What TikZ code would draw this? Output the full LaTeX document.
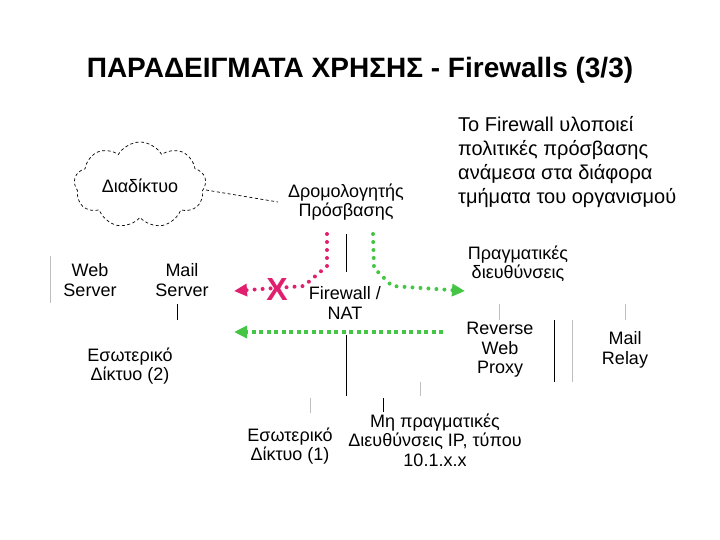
\documentclass[tikz,border=0pt]{standalone}
\usepackage{fontspec}
\setmainfont{Liberation Sans}
\usetikzlibrary{shapes.symbols,arrows.meta}
\definecolor{mag}{HTML}{E0206E}
\definecolor{grn}{HTML}{44C544}
\tikzset{
  lbl/.style={align=center,font=\fontsize{18}{19.5}\selectfont,inner sep=0pt},
  blk/.style={draw=black,line width=0.9pt},
  gry/.style={draw=black!25,line width=0.9pt},
  magdots/.style={draw=mag,line width=4pt,line cap=round,dash pattern=on 0pt off 8pt,
    -{Triangle[length=13pt,width=12pt,line cap=butt]}},
  grndots/.style={draw=grn,line width=4pt,line cap=round,dash pattern=on 0pt off 8pt,
    -{Triangle[length=13pt,width=12pt,line cap=butt]}},
  grndash/.style={draw=grn,line width=4pt,line cap=butt,dash pattern=on 4pt off 3.5pt,
    -{Triangle[length=13pt,width=12pt]}},
}
\begin{document}
\begin{tikzpicture}[x=1pt,y=-1pt]
\useasboundingbox (0,0) rectangle (720,540);
% title
\node[font=\bfseries\fontsize{28}{32}\selectfont,inner sep=0pt] (title) at (360,70) {ΠΑΡΑΔΕΙΓΜΑΤΑ ΧΡΗΣΗΣ - Firewalls (3/3)};
% note
\node[anchor=north west,align=left,inner sep=0pt,font=\fontsize{20}{24}\selectfont] (note) at (458,116)
 {Το Firewall υλοποιεί\\πολιτικές πρόσβασης\\ανάμεσα στα διάφορα\\τμήματα του οργανισμού};
% cloud
\node[cloud,cloud puffs=9,cloud puff arc=120,aspect=1.55,draw,dash pattern=on 3pt off 2.5pt,line width=0.7pt,
  minimum width=132pt,minimum height=86pt,inner sep=0pt] (cloud) at (140,185) {};
\node[lbl] (inet) at (140,186) {Διαδίκτυο};
\node[lbl] (router) at (346,202) {Δρομολογητής\\Πρόσβασης};
\coordinate (rt) at (278,202);
\coordinate (ce) at (206,190);
\draw[dash pattern=on 3pt off 2.5pt,line width=0.7pt] (ce) -- (rt);
% servers
\node[lbl] (web) at (90,280) {Web\\Server};
\node[lbl] (mail) at (182,280) {Mail\\Server};
\node[lbl] (fw) at (345,303) {Firewall /\\NAT};
\node[lbl] (real) at (518,264) {Πραγματικές\\διευθύνσεις};
\node[lbl] (rwp) at (500,350) {Reverse\\Web\\Proxy};
\node[lbl] (relay) at (625,350) {Mail\\Relay};
\node[lbl] (in2) at (130,366) {Εσωτερικό\\Δίκτυο (2)};
\node[lbl] (in1) at (290,446) {Εσωτερικό\\Δίκτυο (1)};
\node[lbl] (nonreal) at (435,440) {Μη πραγματικές\\Διευθύνσεις IP, τύπου\\10.1.x.x};
% segments
\coordinate (a1) at (346,234); \coordinate (a2) at (346,272);
\draw[blk] (a1) -- (a2);
\coordinate (b1) at (346,335); \coordinate (b2) at (346,396);
\draw[blk] (b1) -- (b2);
\coordinate (c1) at (50,256); \coordinate (c2) at (50,303);
\draw[gry] (c1) -- (c2);
\coordinate (d1) at (177,304); \coordinate (d2) at (177,320);
\draw[blk] (d1) -- (d2);
\coordinate (e1) at (499,304); \coordinate (e2) at (499,320);
\draw[gry] (e1) -- (e2);
\coordinate (f1) at (625,304); \coordinate (f2) at (625,320);
\draw[gry] (f1) -- (f2);
\coordinate (g1) at (554,320); \coordinate (g2) at (554,382);
\draw[blk] (g1) -- (g2);
\coordinate (h1) at (572,320); \coordinate (h2) at (572,382);
\draw[gry] (h1) -- (h2);
\coordinate (i1) at (310,398); \coordinate (i2) at (310,413);
\draw[gry] (i1) -- (i2);
\coordinate (j1) at (383,398); \coordinate (j2) at (383,412);
\draw[blk] (j1) -- (j2);
\coordinate (k1) at (420,382); \coordinate (k2) at (420,396);
\draw[gry] (k1) -- (k2);
% flows
\coordinate (m0) at (327,234); \coordinate (m1) at (327,266); \coordinate (m2) at (304,286);
\coordinate (m3) at (234,291);
\draw[magdots] (m0) -- (m1) -- (m2) -- (m3);
\node[text=mag,font=\bfseries\fontsize{32}{34}\selectfont,inner sep=0pt] (x) at (277,289) {X};
\coordinate (g0) at (373,234); \coordinate (gA) at (374,268); \coordinate (gB) at (392,286);
\coordinate (gC) at (465,291);
\draw[grndots] (g0) -- (gA) -- (gB) -- (gC);
\coordinate (h0) at (443,332); \coordinate (hE) at (234,332);
\draw[grndash] (h0) -- (hE);
\end{tikzpicture}
\end{document}
